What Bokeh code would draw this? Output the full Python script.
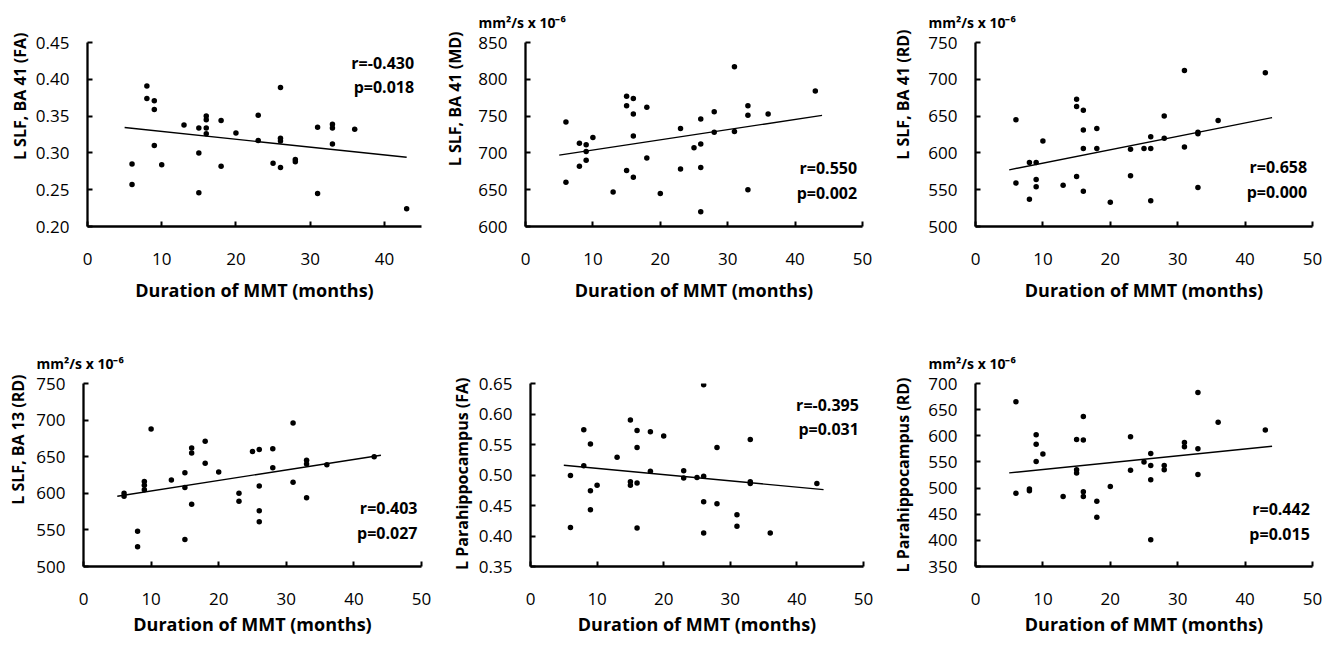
from bokeh.plotting import figure
from bokeh.layouts import column, row
from bokeh.models import Range1d, FixedTicker, PrintfTickFormatter, Label, Title
from bokeh.embed import file_html
from bokeh.resources import INLINE

# ---------------- data ----------------
x_fa41 = [6, 6, 8, 8, 9, 9, 9, 10, 13, 15, 15, 15, 16, 16, 16, 16, 18, 18, 20, 23, 23, 25,
          26, 26, 26, 26, 28, 28, 31, 31, 33, 33, 33, 36, 43]
y_fa41 = [0.285, 0.257, 0.391, 0.374, 0.371, 0.359, 0.310, 0.284, 0.338, 0.334, 0.300, 0.246,
          0.350, 0.345, 0.334, 0.326, 0.344, 0.282, 0.327, 0.351, 0.317, 0.286, 0.389, 0.320,
          0.316, 0.280, 0.291, 0.288, 0.335, 0.245, 0.339, 0.334, 0.312, 0.332, 0.224]

x_md41 = [6, 6, 8, 8, 9, 9, 9, 10, 13, 15, 15, 15, 16, 16, 16, 16, 18, 18, 20, 23, 23, 25,
          26, 26, 26, 26, 28, 28, 31, 31, 33, 33, 33, 36, 43]
y_md41 = [742, 660, 713, 682, 711, 702, 690, 721, 647, 777, 764, 676, 774, 753, 723, 667, 762,
          693, 645, 733, 678, 707, 746, 712, 680, 620, 756, 728, 817, 729, 764, 751, 650, 753, 784]

x_rd41 = [6, 6, 8, 8, 9, 9, 9, 10, 13, 15, 15, 15, 16, 16, 16, 16, 18, 18, 20, 23, 23, 25,
          26, 26, 26, 28, 28, 31, 31, 33, 33, 33, 36, 43]
y_rd41 = [645, 559, 587, 537, 587, 564, 554, 616, 556, 673, 663, 568, 658, 631, 606, 548, 633,
          606, 533, 605, 569, 606, 622, 606, 535, 650, 620, 712, 608, 628, 626, 553, 644, 709]

x_rd13 = [6, 6, 8, 8, 9, 9, 9, 10, 13, 15, 15, 15, 16, 16, 16, 18, 18, 20, 23, 23, 25,
          26, 26, 26, 26, 28, 28, 31, 31, 33, 33, 33, 36, 43]
y_rd13 = [600, 596, 548, 527, 616, 611, 605, 688, 618, 628, 608, 537, 662, 655, 585, 671, 641,
          629, 600, 589, 657, 660, 610, 576, 561, 661, 635, 696, 615, 645, 640, 594, 639, 650]

x_phfa = [6, 6, 8, 8, 9, 9, 9, 10, 13, 15, 15, 15, 16, 16, 16, 16, 18, 18, 20, 23, 23, 25,
          26, 26, 26, 26, 28, 28, 31, 31, 33, 33, 33, 36, 43]
y_phfa = [0.499, 0.414, 0.574, 0.515, 0.551, 0.474, 0.443, 0.483, 0.529, 0.590, 0.489, 0.483,
          0.573, 0.545, 0.487, 0.413, 0.571, 0.506, 0.564, 0.507, 0.495, 0.496, 0.648, 0.498,
          0.456, 0.405, 0.545, 0.453, 0.435, 0.416, 0.558, 0.489, 0.486, 0.405, 0.486]

x_phrd = [6, 6, 8, 8, 9, 9, 9, 10, 13, 15, 15, 15, 16, 16, 16, 16, 18, 18, 20, 23, 23, 25,
          26, 26, 26, 26, 28, 28, 31, 31, 33, 33, 33, 36, 43]
y_phrd = [665, 490, 498, 495, 602, 584, 551, 565, 484, 593, 535, 529, 637, 592, 493, 484, 475,
          444, 503, 598, 534, 550, 566, 543, 516, 401, 543, 535, 587, 579, 683, 575, 526, 626, 611]

# trend line end points
trend_x = [[5, 43], [5, 44], [5, 44], [5, 44], [5, 44], [5, 44]]
trend_y = [[0.3345, 0.294], [697, 751], [577, 648], [596, 652], [0.516, 0.476], [529, 580]]

# tick values
x_ticks_45 = [0, 10, 20, 30, 40]
x_ticks_50 = [0, 10, 20, 30, 40, 50]
y_ticks_fa41 = [0.20, 0.25, 0.30, 0.35, 0.40, 0.45]
y_ticks_md41 = [600, 650, 700, 750, 800, 850]
y_ticks_rd41 = [500, 550, 600, 650, 700, 750]
y_ticks_rd13 = [500, 550, 600, 650, 700, 750]
y_ticks_phfa = [0.35, 0.40, 0.45, 0.50, 0.55, 0.60, 0.65]
y_ticks_phrd = [350, 400, 450, 500, 550, 600, 650, 700]

y_labels = ["L SLF, BA 41 (FA)", "L SLF, BA 41 (MD)", "L SLF, BA 41 (RD)",
            "L SLF, BA 13 (RD)", "L Parahippocampus (FA)", "L Parahippocampus (RD)"]
r_texts = ["r=-0.430", "r=0.550", "r=0.658", "r=0.403", "r=-0.395", "r=0.442"]
p_texts = ["p=0.018", "p=0.002", "p=0.000", "p=0.027", "p=0.031", "p=0.015"]
x_label = "Duration of MMT (months)"
unit_text = "mm\u00b2/s x 10\u207b\u2076"

FONT = "Open Sans"


def make_panel(xs, ys, tx, ty, xticks, yticks, xmax, fmt, ylabel, rt, pt,
               stats_xy, has_unit, left, fw, right, top, fh, bottom,
               ylab_standoff, ylab_offset, xlab_standoff):
    p = figure(frame_width=fw, frame_height=fh, min_border_left=left,
               min_border_right=right, min_border_top=top, min_border_bottom=bottom,
               x_range=Range1d(0, xmax), y_range=Range1d(yticks[0], yticks[-1]),
               output_backend="svg", toolbar_location=None, tools="")
    p.outline_line_color = None
    p.xgrid.grid_line_color = None
    p.ygrid.grid_line_color = None
    p.background_fill_color = "white"
    p.border_fill_color = "white"

    for ax in (p.xaxis[0], p.yaxis[0]):
        ax.axis_line_width = 2.3
        ax.axis_line_color = "black"
        ax.major_tick_line_width = 2
        ax.major_tick_line_color = "black"
        ax.major_tick_in = 5
        ax.major_tick_out = 0
        ax.minor_tick_line_color = None
        ax.major_label_text_font = FONT
        ax.major_label_text_font_size = "17px"
        ax.major_label_text_color = "black"
        ax.axis_label_text_font = FONT
        ax.axis_label_text_font_style = "bold"
        ax.axis_label_text_color = "black"
    p.xaxis.axis_label_text_font_size = "18px"

    p.xaxis.ticker = FixedTicker(ticks=xticks)
    p.yaxis.ticker = FixedTicker(ticks=yticks)
    p.yaxis.formatter = PrintfTickFormatter(format=fmt)
    p.xaxis.major_label_standoff = 26
    p.yaxis.major_label_standoff = 18
    p.xaxis.axis_label = x_label
    p.xaxis.axis_label_standoff = xlab_standoff

    # y axis title, placed beside the tick labels and shifted upward like the original
    p.add_layout(Title(text=ylabel, align="right", offset=ylab_offset, standoff=ylab_standoff,
                       vertical_align="bottom", text_font=FONT, text_font_style="bold",
                       text_font_size="16px", text_color="black"), "left")

    p.line(tx, ty, line_color="black", line_width=1.4)
    p.scatter(xs, ys, size=5.5, fill_color="black", line_color="black", line_width=0)

    sx, sy_r, sy_p = stats_xy
    for txt, yy in ((rt, sy_r), (pt, sy_p)):
        p.add_layout(Label(x=sx, y=yy, text=txt, text_align="right", text_baseline="middle",
                           text_font=FONT, text_font_style="bold", text_font_size="16px",
                           text_color="black"))
    if has_unit:
        p.add_layout(Title(text=unit_text, align="left", offset=-47, standoff=21,
                           text_font=FONT, text_font_style="bold", text_font_size="14px",
                           text_color="black"), "above")
    return p


p1 = make_panel(x_fa41, y_fa41, trend_x[0], trend_y[0], x_ticks_45, y_ticks_fa41, 45, "%.2f",
                y_labels[0], r_texts[0], p_texts[0], (44.0, 0.422, 0.389), False,
                87, 334, 10, 42, 184, 78, 4, -10, 10)
p2 = make_panel(x_md41, y_md41, trend_x[1], trend_y[1], x_ticks_50, y_ticks_md41, 50, "%d",
                y_labels[1], r_texts[1], p_texts[1], (49.2, 680, 646), True,
                93, 337, 15, 42, 184, 78, 20, -11, 10)
p3 = make_panel(x_rd41, y_rd41, trend_x[2], trend_y[2], x_ticks_50, y_ticks_rd41, 50, "%d",
                y_labels[2], r_texts[2], p_texts[2], (49.2, 581, 547), True,
                97, 337, 12, 42, 184, 78, 24, -13, 10)
p4 = make_panel(x_rd13, y_rd13, trend_x[3], trend_y[3], x_ticks_50, y_ticks_rd13, 50, "%d",
                y_labels[3], r_texts[3], p_texts[3], (49.4, 580, 546), True,
                82, 338, 15, 79, 183, 70, 9, -9, 4)
p5 = make_panel(x_phfa, y_phfa, trend_x[4], trend_y[4], x_ticks_50, y_ticks_phfa, 50, "%.2f",
                y_labels[4], r_texts[4], p_texts[4], (49.3, 0.6154, 0.576), False,
                94, 333, 14, 79, 183, 70, 6, -6, 4)
p6 = make_panel(x_phrd, y_phrd, trend_x[5], trend_y[5], x_ticks_50, y_ticks_phrd, 50, "%d",
                y_labels[5], r_texts[5], p_texts[5], (49.6, 460, 412.4), True,
                97, 337, 12, 79, 183, 70, 24, -6, 4)

layout = column(row(p1, p2, p3), row(p4, p5, p6))
open("out.html", "w").write(file_html(layout, INLINE))
